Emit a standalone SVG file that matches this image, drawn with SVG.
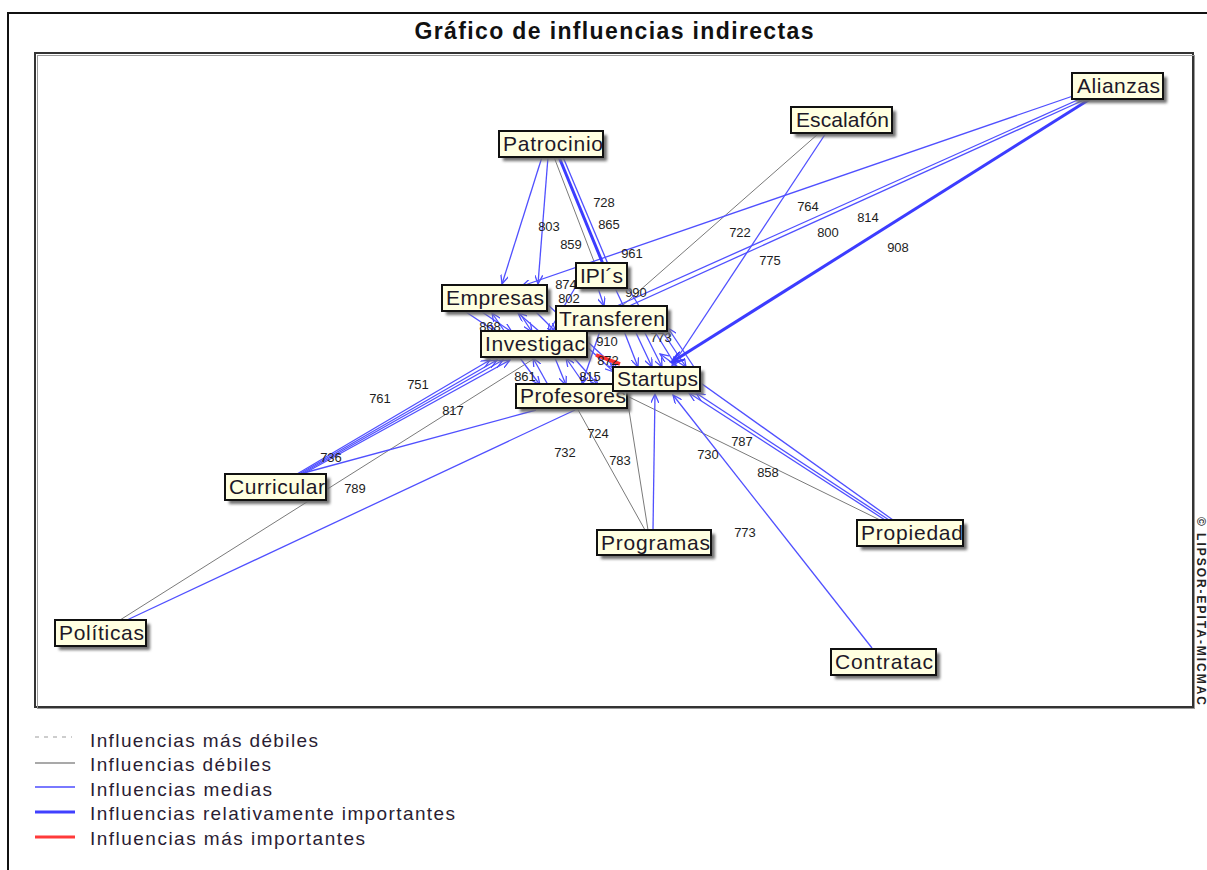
<svg xmlns="http://www.w3.org/2000/svg" width="1207" height="870" viewBox="0 0 1207 870">
  <defs>
    <filter id="shadow" x="-20%" y="-40%" width="140%" height="180%">
      <feGaussianBlur stdDeviation="1.6"/>
    </filter>
    <marker id="ah" markerWidth="10" markerHeight="8" refX="9" refY="4" orient="auto" markerUnits="userSpaceOnUse">
      <path d="M0,0 L9,4 L0,8" fill="none" stroke="#4d4dff" stroke-width="1.3"/>
    </marker>
    <marker id="ahThick" markerWidth="13" markerHeight="10" refX="12" refY="5" orient="auto" markerUnits="userSpaceOnUse">
      <path d="M0,0 L12,5 L0,10" fill="none" stroke="#3c3cff" stroke-width="2.4"/>
    </marker>
  </defs>
  <style>
    .weak { stroke: #7a7a7a; stroke-width: 1; fill: none; }
    .mid { stroke: #5050ff; stroke-width: 1.3; fill: none; }
    .rel { stroke: #3c3cff; stroke-width: 3; fill: none; }
    .top { stroke: #ff3030; stroke-width: 3.5; fill: none; }
    .arr { marker-end: url(#ah); }
    .arrT { marker-end: url(#ahThick); }
    .lbl { font-family: "Liberation Sans", Arial, sans-serif; font-size: 13px; fill: #1e1e1e; text-anchor: middle; }
    .node .sh { fill: #6e6e6e; filter: url(#shadow); }
    .node .box { fill: #ffffe1; stroke: #111; stroke-width: 2; }
    .node text { font-family: "Liberation Sans", Arial, sans-serif; font-size: 21px; fill: #1d1828; }
    .legend text { font-family: "Liberation Sans", Arial, sans-serif; font-size: 19px; fill: #2a1d33; }
  </style>

  <rect width="1207" height="870" fill="#ffffff"/>

  <!-- outer frame and plot frame -->
  <rect x="8" y="13" width="1220" height="880" fill="none" stroke="#111" stroke-width="2"/>
  <rect x="35" y="53" width="1158" height="654" fill="none" stroke="#333" stroke-width="2"/>
  <rect x="37.5" y="55.5" width="1157" height="653" fill="none" stroke="#9a9a9a" stroke-width="1"/>

  <text x="614" y="39" text-anchor="middle" textLength="399" lengthAdjust="spacing" font-family="'Liberation Sans', Arial, sans-serif" font-size="23" font-weight="bold" fill="#111">Gráfico de influencias indirectas</text>

  <!-- connectors -->
  <g id="connectors">
    <!-- weak influences -->
    <line class="weak" x1="818" y1="134" x2="622" y2="306"/>
    <line class="weak" x1="554" y1="157" x2="595" y2="264"/>
    <line class="weak" x1="120" y1="620" x2="535" y2="358"/>
    <line class="weak" x1="645" y1="530" x2="577" y2="408"/>
    <line class="weak" x1="648" y1="530" x2="628" y2="404"/>
    <line class="weak" x1="880" y1="520" x2="627" y2="396"/>

    <!-- medium influences: long edges -->
    <line class="mid arr" x1="1073" y1="96" x2="522" y2="286"/>
    <line class="mid" x1="1082" y1="98" x2="590" y2="318"/>
    <line class="mid" x1="1086" y1="99" x2="596" y2="321"/>
    <line class="mid arr" x1="826" y1="133" x2="672" y2="366"/>
    <line class="mid arr" x1="542" y1="157" x2="502" y2="284"/>
    <line class="mid arr" x1="548" y1="157" x2="538" y2="284"/>
    <line class="mid" x1="563" y1="157" x2="608" y2="264"/>
    <line class="mid arr" x1="297" y1="474" x2="490" y2="360"/>
    <line class="mid arr" x1="299" y1="474" x2="497" y2="360"/>
    <line class="mid arr" x1="301" y1="474" x2="503" y2="360"/>
    <line class="mid arr" x1="303" y1="474" x2="510" y2="360"/>
    <line class="mid" x1="300" y1="474" x2="536" y2="410"/>
    <line class="mid" x1="127" y1="620" x2="575" y2="410"/>
    <line class="mid arr" x1="653" y1="530" x2="655" y2="394"/>
    <line class="mid arr" x1="885" y1="520" x2="689" y2="393"/>
    <line class="mid arr" x1="889" y1="520" x2="696" y2="393"/>
    <line class="mid arr" x1="893" y1="520" x2="660" y2="354"/>
    <line class="mid arr" x1="872" y1="648" x2="673" y2="395"/>

    <!-- medium influences: inside the central cluster -->
    <line class="mid arr" x1="466" y1="312" x2="496" y2="332"/>
    <line class="mid arr" x1="482" y1="312" x2="512" y2="332"/>
    <line class="mid arr" x1="505" y1="332" x2="492" y2="313"/>
    <line class="mid arr" x1="519" y1="312" x2="532" y2="332"/>
    <line class="mid arr" x1="540" y1="332" x2="518" y2="313"/>
    <line class="mid arr" x1="536" y1="312" x2="556" y2="332"/>
    <line class="mid arr" x1="520" y1="358" x2="540" y2="385"/>
    <line class="mid arr" x1="548" y1="385" x2="533" y2="358"/>
    <line class="mid arr" x1="555" y1="358" x2="566" y2="385"/>
    <line class="mid arr" x1="574" y1="358" x2="598" y2="385"/>
    <line class="mid arr" x1="584" y1="384" x2="566" y2="358"/>
    <line class="mid arr" x1="624" y1="331" x2="638" y2="367"/>
    <line class="mid arr" x1="644" y1="331" x2="662" y2="367"/>
    <line class="mid arr" x1="662" y1="331" x2="686" y2="367"/>
    <line class="mid arr" x1="694" y1="367" x2="668" y2="328"/>
    <line class="mid arr" x1="615" y1="288" x2="652" y2="367"/>
    <line class="mid arr" x1="598" y1="288" x2="604" y2="306"/>
    <line class="mid arr" x1="547" y1="304" x2="617" y2="369"/>
    <line class="mid arr" x1="586" y1="346" x2="614" y2="372"/>
    <line class="mid arr" x1="600" y1="331" x2="582" y2="384"/>
    <line class="mid arr" x1="628" y1="288" x2="676" y2="366"/>
    <line class="mid arr" x1="575" y1="288" x2="548" y2="333"/>

    <!-- relatively important influences -->
    <line class="rel arrT" x1="1090" y1="99" x2="672" y2="362"/>
    <line class="rel" x1="559" y1="157" x2="603" y2="264"/>

    <!-- most important influence -->
    <line class="top" x1="596" y1="355" x2="620" y2="364"/>
  </g>

  <!-- influence values -->
  <g id="values">
    <text class="lbl" x="604" y="207">728</text>
    <text class="lbl" x="609" y="229">865</text>
    <text class="lbl" x="549" y="231">803</text>
    <text class="lbl" x="571" y="249">859</text>
    <text class="lbl" x="632" y="258">961</text>
    <text class="lbl" x="808" y="211">764</text>
    <text class="lbl" x="868" y="222">814</text>
    <text class="lbl" x="828" y="237">800</text>
    <text class="lbl" x="898" y="252">908</text>
    <text class="lbl" x="740" y="237">722</text>
    <text class="lbl" x="770" y="265">775</text>
    <text class="lbl" x="566" y="289">874</text>
    <text class="lbl" x="569" y="303">802</text>
    <text class="lbl" x="636" y="297">990</text>
    <text class="lbl" x="490" y="331">868</text>
    <text class="lbl" x="661" y="342">773</text>
    <text class="lbl" x="607" y="346">910</text>
    <text class="lbl" x="608" y="365" fill="#6a0a0a">872</text>
    <text class="lbl" x="525" y="381">861</text>
    <text class="lbl" x="590" y="381">815</text>
    <text class="lbl" x="418" y="389">751</text>
    <text class="lbl" x="380" y="403">761</text>
    <text class="lbl" x="453" y="415">817</text>
    <text class="lbl" x="331" y="462">736</text>
    <text class="lbl" x="355" y="493">789</text>
    <text class="lbl" x="598" y="438">724</text>
    <text class="lbl" x="565" y="457">732</text>
    <text class="lbl" x="620" y="465">783</text>
    <text class="lbl" x="708" y="459">730</text>
    <text class="lbl" x="742" y="446">787</text>
    <text class="lbl" x="768" y="477">858</text>
    <text class="lbl" x="745" y="537">773</text>
  </g>

  <!-- nodes -->
  <g id="n-alianzas" class="node">
    <rect class="sh" x="1076" y="77" width="91" height="26"/>
    <rect class="box" x="1072" y="73" width="91" height="26"/>
    <text x="1077" y="93" textLength="83" lengthAdjust="spacing">Alianzas</text>
  </g>
  <g id="n-escalafon" class="node">
    <rect class="sh" x="795" y="111" width="101" height="26"/>
    <rect class="box" x="791" y="107" width="101" height="26"/>
    <text x="796" y="127" textLength="93" lengthAdjust="spacing">Escalafón</text>
  </g>
  <g id="n-patrocinio" class="node">
    <rect class="sh" x="503" y="135" width="104" height="26"/>
    <rect class="box" x="499" y="131" width="104" height="26"/>
    <text x="503" y="151" textLength="100" lengthAdjust="spacing">Patrocinio</text>
  </g>
  <g id="n-curricular" class="node">
    <rect class="sh" x="229" y="478" width="101" height="26"/>
    <rect class="box" x="225" y="474" width="101" height="26"/>
    <text x="229" y="494" textLength="96" lengthAdjust="spacing">Curricular</text>
  </g>
  <g id="n-politicas" class="node">
    <rect class="sh" x="59" y="624" width="91" height="26"/>
    <rect class="box" x="55" y="620" width="91" height="26"/>
    <text x="59" y="640" textLength="85" lengthAdjust="spacing">Políticas</text>
  </g>
  <g id="n-programas" class="node">
    <rect class="sh" x="601" y="534" width="114" height="25"/>
    <rect class="box" x="597" y="530" width="114" height="25"/>
    <text x="601" y="550" textLength="109" lengthAdjust="spacing">Programas</text>
  </g>
  <g id="n-propiedad" class="node">
    <rect class="sh" x="861" y="524" width="106" height="26"/>
    <rect class="box" x="857" y="520" width="106" height="26"/>
    <text x="861" y="540" textLength="102" lengthAdjust="spacing">Propiedad</text>
  </g>
  <g id="n-contratac" class="node">
    <rect class="sh" x="835" y="653" width="105" height="26"/>
    <rect class="box" x="831" y="649" width="105" height="26"/>
    <text x="835" y="669" textLength="98" lengthAdjust="spacing">Contratac</text>
  </g>
  <g id="n-ipis" class="node">
    <rect class="sh" x="580" y="267" width="51" height="25"/>
    <rect class="box" x="576" y="263" width="51" height="25"/>
    <text x="580" y="283" textLength="43" lengthAdjust="spacing">IPI´s</text>
  </g>
  <g id="n-empresas" class="node">
    <rect class="sh" x="446" y="289" width="105" height="26"/>
    <rect class="box" x="442" y="285" width="105" height="26"/>
    <text x="446" y="305" textLength="98" lengthAdjust="spacing">Empresas</text>
  </g>
  <g id="n-transferen" class="node">
    <rect class="sh" x="560" y="310" width="111" height="25"/>
    <rect class="box" x="556" y="306" width="111" height="25"/>
    <text x="559" y="326" textLength="106" lengthAdjust="spacing">Transferen</text>
  </g>
  <g id="n-investigac" class="node">
    <rect class="sh" x="485" y="335" width="106" height="26"/>
    <rect class="box" x="481" y="331" width="106" height="26"/>
    <text x="485" y="351" textLength="100" lengthAdjust="spacing">Investigac</text>
  </g>
  <g id="n-profesores" class="node">
    <rect class="sh" x="520" y="388" width="111" height="24"/>
    <rect class="box" x="516" y="384" width="111" height="24"/>
    <text x="520" y="403" textLength="106" lengthAdjust="spacing">Profesores</text>
  </g>
  <g id="n-startups" class="node">
    <rect class="sh" x="617" y="371" width="87" height="24"/>
    <rect class="box" x="613" y="367" width="87" height="24"/>
    <text x="617" y="386" textLength="81" lengthAdjust="spacing">Startups</text>
  </g>

  <!-- credit line -->
  <text transform="translate(1197,517) rotate(90)" textLength="188" lengthAdjust="spacing" font-family="'Liberation Sans', Arial, sans-serif" font-size="12" font-weight="bold" fill="#222">© LIPSOR-EPITA-MICMAC</text>

  <!-- legend -->
  <g class="legend">
    <line x1="35" y1="737" x2="72" y2="737" stroke="#9c9c9c" stroke-width="1.2" stroke-dasharray="4,5"/>
    <line x1="35" y1="763" x2="75" y2="763" stroke="#555" stroke-width="1.2"/>
    <line x1="35" y1="787" x2="75" y2="787" stroke="#4d4dff" stroke-width="1.4"/>
    <line x1="35" y1="812" x2="75" y2="812" stroke="#4040ff" stroke-width="3"/>
    <line x1="35" y1="837" x2="75" y2="837" stroke="#ff3a3a" stroke-width="3"/>
    <text x="90" y="747" textLength="228" lengthAdjust="spacing">Influencias más débiles</text>
    <text x="90" y="771" textLength="181" lengthAdjust="spacing">Influencias débiles</text>
    <text x="90" y="796" textLength="182" lengthAdjust="spacing">Influencias medias</text>
    <text x="90" y="820" textLength="365" lengthAdjust="spacing">Influencias relativamente importantes</text>
    <text x="90" y="845" textLength="275" lengthAdjust="spacing">Influencias más importantes</text>
  </g>
</svg>
